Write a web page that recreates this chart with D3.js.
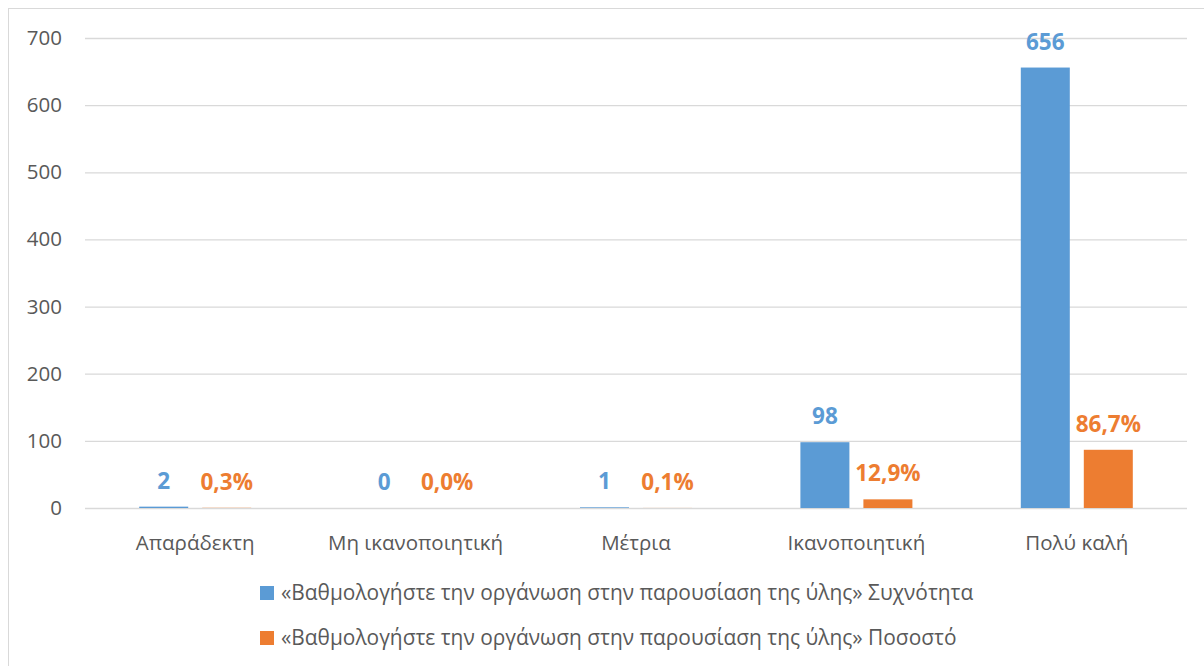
<!DOCTYPE html>
<html>
<head>
<meta charset="utf-8">
<script src="https://cdn.jsdelivr.net/npm/d3@7"></script>
<style>
  body { margin: 0; background: #fff; }
  text { font-family: "Open Sans", "Noto Sans", sans-serif; }
</style>
</head>
<body>
<figure id="bar" style="margin:0"></figure>
<script>
const categories = ["Απαράδεκτη", "Μη ικανοποιητική", "Μέτρια", "Ικανοποιητική", "Πολύ καλή"];
const frequency = [2, 0, 1, 98, 656];
const percent = [0.3, 0.0, 0.1, 12.9, 86.7];
const yTicks = [0, 100, 200, 300, 400, 500, 600, 700];
const seriesNames = [
  "«Βαθμολογήστε την οργάνωση στην παρουσίαση της ύλης» Συχνότητα",
  "«Βαθμολογήστε την οργάνωση στην παρουσίαση της ύλης» Ποσοστό"
];
const colors = ["#5B9BD5", "#ED7D31"];

const W = 1204, H = 666;
const plot = { left: 85, right: 1187, top: 38, bottom: 508 };

const svg = d3.select("figure#bar")
  .append("svg")
  .attr("width", W)
  .attr("height", H);

// outer chart border
svg.append("rect")
  .attr("x", 8.5).attr("y", 8.5)
  .attr("width", W + 10).attr("height", H + 10)
  .attr("fill", "none")
  .attr("stroke", "#D9D9D9")
  .attr("stroke-width", 1);

const x = d3.scaleBand()
  .domain(categories)
  .range([plot.left, plot.right]);

const inner = d3.scaleBand()
  .domain([0, 1])
  .range([0, 112])
  .paddingInner(0.2222);

const y = d3.scaleLinear()
  .domain([0, 700])
  .range([plot.bottom, plot.top]);

// gridlines + y labels
const yAxis = svg.append("g")
  .attr("transform", "translate(" + plot.left + ",0)")
  .call(d3.axisLeft(y).tickValues(yTicks).tickSize(-(plot.right - plot.left)).tickPadding(23));
yAxis.select(".domain").remove();
yAxis.selectAll("line").attr("stroke", "#D9D9D9").attr("stroke-width", 1.3);
yAxis.selectAll("text")
  .attr("fill", "#595959")
  .style("font-size", "20.5px")
  .style("font-family", "'Open Sans', sans-serif");

// category labels
svg.append("g")
  .selectAll("text")
  .data(categories)
  .enter()
  .append("text")
  .attr("x", d => x(d) + x.bandwidth() / 2)
  .attr("y", 550)
  .attr("text-anchor", "middle")
  .attr("fill", "#595959")
  .style("font-size", "20.5px")
  .text(d => d);

const series = [frequency, percent];
const fmt = [v => String(v), v => v.toFixed(1).replace(".", ",") + "%"];

series.forEach((vals, s) => {
  const off = (c) => x(c) + x.bandwidth() / 2 - 56 + inner(s);
  svg.append("g")
    .selectAll("rect")
    .data(vals)
    .enter()
    .append("rect")
    .attr("x", (d, i) => off(categories[i]))
    .attr("width", inner.bandwidth())
    .attr("y", d => y(d))
    .attr("height", d => y(0) - y(d))
    .attr("fill", colors[s]);

  svg.append("g")
    .selectAll("text")
    .data(vals)
    .enter()
    .append("text")
    .attr("x", (d, i) => off(categories[i]) + inner.bandwidth() / 2)
    .attr("y", d => y(d) - 18)
    .attr("text-anchor", "middle")
    .attr("fill", colors[s])
    .style("font-size", "22.5px")
    .style("font-weight", "bold")
    .text(d => fmt[s](d));
});

// legend
const legend = svg.append("g")
  .selectAll("g")
  .data(seriesNames)
  .enter()
  .append("g")
  .attr("transform", (d, i) => "translate(260," + (593 + i * 45) + ")");
legend.append("rect")
  .attr("x", 0).attr("y", -7)
  .attr("width", 14).attr("height", 14)
  .attr("fill", (d, i) => colors[i]);
legend.append("text")
  .attr("x", 21).attr("y", 7)
  .attr("fill", "#595959")
  .style("font-size", "20.9px")
  .text(d => d);
</script>
</body>
</html>
